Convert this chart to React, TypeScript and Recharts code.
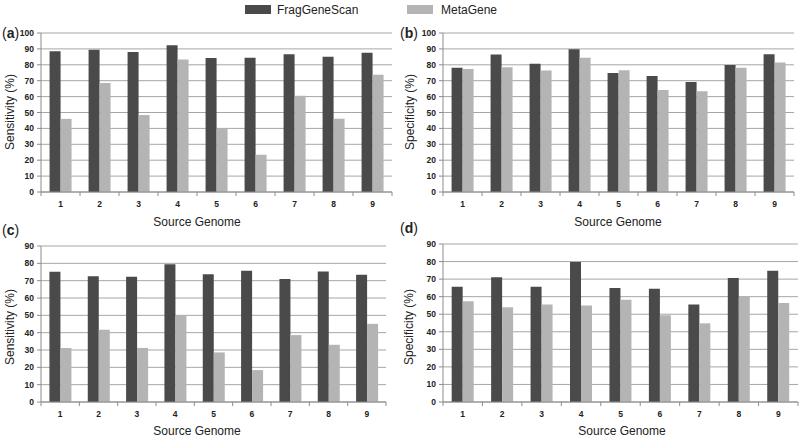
import React from 'react';
import { BarChart, Bar, XAxis, YAxis, CartesianGrid } from 'recharts';

const genomes = ['1', '2', '3', '4', '5', '6', '7', '8', '9'];
const sensitivityA_FGS = [88.5, 89.5, 88, 92.3, 84.3, 84.5, 86.7, 85.1, 87.6];
const sensitivityA_MG = [46, 68.6, 48.4, 83.4, 40, 23.4, 60.6, 46.1, 73.8];
const specificityB_FGS = [78.1, 86.4, 80.6, 89.8, 74.9, 73, 69.2, 79.8, 86.6];
const specificityB_MG = [77.4, 78.5, 76.4, 84.5, 76.6, 64.2, 63.4, 78.1, 81.5];
const sensitivityC_FGS = [75.1, 72.5, 72.3, 79.4, 73.7, 75.7, 71, 75.3, 73.4];
const sensitivityC_MG = [31.2, 41.7, 31.2, 50, 28.6, 18.4, 38.6, 33, 45.1];
const specificityD_FGS = [65.7, 71.1, 65.7, 79.8, 64.9, 64.5, 55.6, 70.7, 74.7];
const specificityD_MG = [57.4, 54, 55.5, 54.9, 58.3, 49.4, 44.8, 60, 56.4];
const ticks100 = [0, 10, 20, 30, 40, 50, 60, 70, 80, 90, 100];
const ticks90 = [0, 10, 20, 30, 40, 50, 60, 70, 80, 90];
const seriesNames = ['FragGeneScan', 'MetaGene'];
const xTitle = 'Source Genome';
const yTitles = ['Sensitivity (%)', 'Specificity (%)'];

const FONT = '"Liberation Sans", Arial, sans-serif';
const DARK = '#4a4a4a';
const LIGHT = '#b4b4b4';
const GRID = '#a6a6a6';
const AXIS = '#8c8c8c';

const build = (fgs: number[], mg: number[]) =>
  genomes.map((g, i) => ({ genome: g, fgs: fgs[i], mg: mg[i] }));

const makeXTick = (step: number) => (props: any) => {
  const { x, y, payload, index } = props;
  const axisY = y - 8;
  return (
    <g>
      <line x1={x - step / 2} x2={x - step / 2} y1={axisY} y2={axisY + 4} stroke={AXIS} />
      {index === genomes.length - 1 && (
        <line x1={x + step / 2} x2={x + step / 2} y1={axisY} y2={axisY + 4} stroke={AXIS} />
      )}
      <text x={x} y={y + 7} textAnchor="middle" fontSize={8.5} fontWeight="bold" fill="#222" fontFamily={FONT}>
        {payload.value}
      </text>
    </g>
  );
};

type PanelProps = {
  left: number;
  top: number;
  width: number;
  height: number;
  margin: { top: number; right: number; bottom: number; left: number };
  yWidth: number;
  xHeight: number;
  max: number;
  ticks: number[];
  fgs: number[];
  mg: number[];
};

const Panel = (p: PanelProps) => {
  const plotW = p.width - p.margin.left - p.margin.right - p.yWidth;
  const step = plotW / genomes.length;
  return (
    <div style={{ position: 'absolute', left: p.left, top: p.top }}>
      <BarChart
        width={p.width}
        height={p.height}
        data={build(p.fgs, p.mg)}
        margin={p.margin}
        barCategoryGap="22%"
        barGap={0}
      >
        <CartesianGrid vertical={false} stroke={GRID} />
        <XAxis
          dataKey="genome"
          height={p.xHeight}
          stroke={AXIS}
          tickLine={false}
          tick={makeXTick(step)}
          interval={0}
        />
        <YAxis
          width={p.yWidth}
          domain={[0, p.max]}
          ticks={p.ticks}
          interval={0}
          stroke={AXIS}
          tickSize={4}
          tickMargin={3}
          tick={{ fontSize: 8.5, fontWeight: 'bold', fill: '#222', fontFamily: FONT }}
        />
        <Bar dataKey="fgs" name={seriesNames[0]} fill={DARK} isAnimationActive={false} />
        <Bar dataKey="mg" name={seriesNames[1]} fill={LIGHT} isAnimationActive={false} />
      </BarChart>
    </div>
  );
};

const Txt = ({ cx, cy, children, size = 12, rotate = false }: any) => (
  <div
    style={{
      position: 'absolute',
      left: cx,
      top: cy,
      width: 200,
      textAlign: 'center',
      fontFamily: FONT,
      fontSize: size,
      lineHeight: `${size + 2}px`,
      color: '#222',
      whiteSpace: 'nowrap',
      transform: `translate(-50%, -50%)${rotate ? ' rotate(-90deg)' : ''}`,
    }}
  >
    {children}
  </div>
);

const PanelLabel = ({ left, cy, letter }: any) => (
  <div
    style={{
      position: 'absolute',
      left,
      top: cy - 8,
      fontFamily: FONT,
      fontSize: 14,
      lineHeight: '16px',
      color: '#222',
    }}
  >
    (<b>{letter}</b>)
  </div>
);

const Swatch = ({ left, top, color }: any) => (
  <div style={{ position: 'absolute', left, top, width: 26, height: 9, background: color }} />
);

export default function App() {
  return (
    <div style={{ position: 'absolute', left: 0, top: 0, width: 800, height: 438, background: '#fff', overflow: 'hidden' }}>
      <Swatch left={245} top={5} color={DARK} />
      <div style={{ position: 'absolute', left: 277, top: 3, fontFamily: FONT, fontSize: 12, lineHeight: '14px', color: '#222' }}>
        {seriesNames[0]}
      </div>
      <Swatch left={407} top={5} color={LIGHT} />
      <div style={{ position: 'absolute', left: 441, top: 3, fontFamily: FONT, fontSize: 12, lineHeight: '14px', color: '#222' }}>
        {seriesNames[1]}
      </div>

      <Panel left={0} top={0} width={400} height={220} margin={{ top: 33, right: 8, bottom: 0, left: 0 }} yWidth={41} xHeight={28} max={100} ticks={ticks100} fgs={sensitivityA_FGS} mg={sensitivityA_MG} />
      <Panel left={400} top={0} width={400} height={220} margin={{ top: 33, right: 6, bottom: 0, left: 0 }} yWidth={43} xHeight={28} max={100} ticks={ticks100} fgs={specificityB_FGS} mg={specificityB_MG} />
      <Panel left={0} top={220} width={400} height={218} margin={{ top: 26, right: 14, bottom: 0, left: 0 }} yWidth={41} xHeight={36} max={90} ticks={ticks90} fgs={sensitivityC_FGS} mg={sensitivityC_MG} />
      <Panel left={400} top={220} width={400} height={218} margin={{ top: 24, right: 2, bottom: 0, left: 0 }} yWidth={43} xHeight={36} max={90} ticks={ticks90} fgs={specificityD_FGS} mg={specificityD_MG} />

      <PanelLabel left={2} cy={33} letter="a" />
      <PanelLabel left={400} cy={33} letter="b" />
      <PanelLabel left={2} cy={230} letter="c" />
      <PanelLabel left={400} cy={228} letter="d" />

      <Txt cx={10} cy={112} rotate>{yTitles[0]}</Txt>
      <Txt cx={410} cy={112} rotate>{yTitles[1]}</Txt>
      <Txt cx={10} cy={327} rotate>{yTitles[0]}</Txt>
      <Txt cx={409} cy={327} rotate>{yTitles[1]}</Txt>

      <Txt cx={197} cy={222}>{xTitle}</Txt>
      <Txt cx={618} cy={222}>{xTitle}</Txt>
      <Txt cx={197} cy={431}>{xTitle}</Txt>
      <Txt cx={622} cy={431}>{xTitle}</Txt>
    </div>
  );
}
